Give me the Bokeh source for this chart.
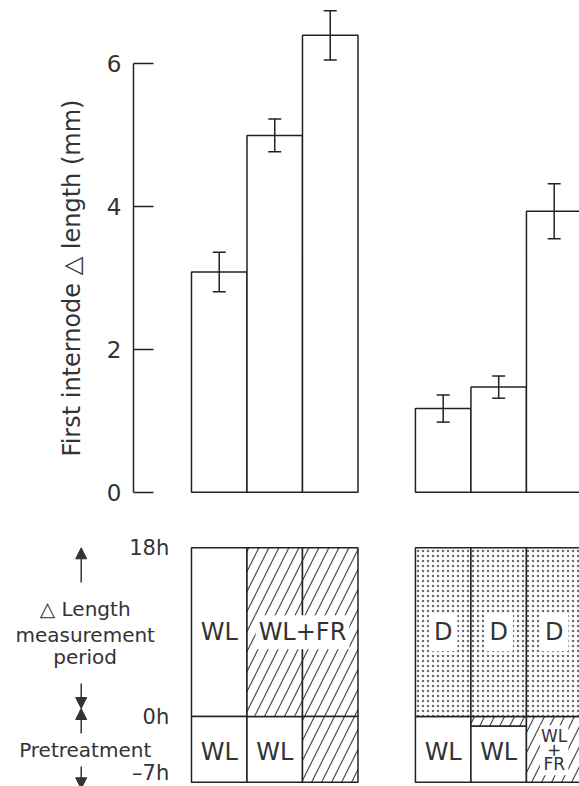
from bokeh.plotting import figure
from bokeh.models import (Range1d, Whisker, ColumnDataSource, TeeHead, Arrow,
                          NormalHead, FixedTicker)
from bokeh.layouts import column
from bokeh.embed import file_html
from bokeh.resources import INLINE
from bokeh.core.properties import value

# ---------------- data ----------------
group1_values = [3.08, 4.99, 6.39]
group1_errors = [0.275, 0.23, 0.345]
group2_values = [1.17, 1.47, 3.93]
group2_errors = [0.19, 0.155, 0.385]
y_ticks = [0, 2, 4, 6]
y_label = "First internode \u25b3 length (mm)"

# measurement period (0h -> 18h) condition for each of the six columns
measure_conditions = ["WL", "WL+FR", "WL+FR", "D", "D", "D"]
measure_start = 0
measure_end = 18
# pretreatment blocks (column index, start h, end h, condition)
pre_column = [0, 1, 2, 3, 4, 4, 5]
pre_start = [-7, -7, -7, -7, -7, -1, -7]
pre_end = [0, 0, 0, 0, -1, 0, 0]
pre_condition = ["WL", "WL", "WL+FR", "WL", "WL", "WL+FR", "WL+FR"]
hour_ticks = [18, 0, -7]
hour_labels = ["18h", "0h", "\u20137h"]

# ---------------- layout constants ----------------
FONT = value("DejaVu Sans")
INK = "#222222"
TXT = "#333333"
group_left = [1.045, 5.08]          # left edge of each group (bar-width units)
X_RANGE = (-2.396, 8.036)


def col_left(k):
    return group_left[k // 3] + k % 3


# ---------------- top: bar chart ----------------
vals = group1_values + group2_values
errs = group1_errors + group2_errors
lefts = [col_left(k) for k in range(6)]
src = ColumnDataSource(dict(
    left=lefts, right=[l + 1 for l in lefts], top=vals,
    x=[l + 0.5 for l in lefts],
    upper=[v + e for v, e in zip(vals, errs)],
    lower=[v - e for v, e in zip(vals, errs)],
))

p1 = figure(width=579, height=513, x_range=Range1d(*X_RANGE),
            y_range=Range1d(-0.298, 6.877), output_backend="svg",
            toolbar_location=None, x_axis_location=None,
            min_border_left=0, min_border_right=0, min_border_top=0,
            min_border_bottom=0, outline_line_color=None)
p1.grid.grid_line_color = None
p1.quad(left="left", right="right", top="top", bottom=0, source=src,
        fill_color="white", line_color=INK, line_width=1.5)
p1.add_layout(Whisker(source=src, base="x", upper="upper", lower="lower",
                      level="overlay", line_color=INK, line_width=1.5,
                      upper_head=TeeHead(size=13, line_color=INK, line_width=1.5),
                      lower_head=TeeHead(size=13, line_color=INK, line_width=1.5)))
ya = p1.yaxis[0]
ya.fixed_location = 0
ya.bounds = (0, 6)
ya.ticker = FixedTicker(ticks=y_ticks)
ya.major_tick_in = 20
ya.major_tick_out = 0
ya.minor_tick_line_color = None
ya.axis_line_color = INK
ya.axis_line_width = 1.5
ya.major_tick_line_color = INK
ya.major_tick_line_width = 1.5
ya.major_label_text_font = "DejaVu Sans"
ya.major_label_text_font_size = "23px"
ya.major_label_text_color = TXT
ya.major_label_standoff = 12
ya.axis_label = y_label
ya.axis_label_text_font = "DejaVu Sans"
ya.axis_label_text_font_size = "24px"
ya.axis_label_text_font_style = "normal"
ya.axis_label_text_color = TXT
ya.axis_label_standoff = 18

# ---------------- bottom: treatment schedule ----------------
p2 = figure(width=579, height=273, x_range=Range1d(*X_RANGE),
            y_range=Range1d(-7.459, 21.658), output_backend="svg",
            toolbar_location=None, x_axis_location=None, y_axis_location=None,
            min_border_left=0, min_border_right=0, min_border_top=0,
            min_border_bottom=0, outline_line_color=None)
p2.grid.grid_line_color = None

blk_col = list(range(6)) + pre_column
blk_start = [measure_start] * 6 + pre_start
blk_end = [measure_end] * 6 + pre_end
blk_cond = measure_conditions + pre_condition


def blocks(cond):
    idx = [i for i, c in enumerate(blk_cond) if c == cond]
    return ColumnDataSource(dict(
        left=[col_left(blk_col[i]) for i in idx],
        right=[col_left(blk_col[i]) + 1 for i in idx],
        bottom=[blk_start[i] for i in idx],
        top=[blk_end[i] for i in idx]))


p2.quad(left="left", right="right", top="top", bottom="bottom",
        source=blocks("WL"), fill_color="white", line_color=INK, line_width=1.5)
p2.quad(left="left", right="right", top="top", bottom="bottom",
        source=blocks("WL+FR"), fill_color="white", line_color=INK,
        line_width=1.5, hatch_pattern="/", hatch_color="#4a4a4a",
        hatch_scale=20, hatch_weight=1.2)
p2.quad(left="left", right="right", top="top", bottom="bottom",
        source=blocks("D"), fill_color="white", line_color=INK,
        line_width=1.5, hatch_pattern=".", hatch_color="#6a6a6a",
        hatch_scale=5, hatch_weight=1.1)

# labels inside the schedule
mid_measure = (measure_start + measure_end) / 2
p2.text(x=[col_left(0) + 0.5], y=[mid_measure], text=["WL"],
        text_font=FONT, text_font_size="24px", text_color=TXT,
        text_align="center", text_baseline="middle")
p2.text(x=[col_left(2)], y=[mid_measure], text=["WL+FR"],
        text_font=FONT, text_font_size="24px", text_color=TXT,
        text_align="center", text_baseline="middle",
        background_fill_color="white", padding=3)
p2.text(x=[col_left(k) + 0.5 for k in (3, 4, 5)], y=[mid_measure] * 3,
        text=["D"] * 3, text_font=FONT, text_font_size="24px", text_color=TXT,
        text_align="center", text_baseline="middle",
        background_fill_color="white", padding=5)
pre_mid = -3.8
p2.text(x=[col_left(k) + 0.5 for k in (0, 1, 3, 4)], y=[pre_mid] * 4,
        text=["WL"] * 4, text_font=FONT, text_font_size="24px",
        text_color=TXT, text_align="center", text_baseline="middle")
p2.text(x=[col_left(5) + 0.5], y=[-3.6], text=["WL\n+\nFR"],
        text_font=FONT, text_font_size="17px", text_color=TXT,
        text_line_height=0.7, text_align="center", text_baseline="middle",
        background_fill_color="white", padding=1)

# hour labels, placed at their hour values on the schedule's time scale
p2.text(x=[group_left[0] - 0.4] * 3, y=hour_ticks, text=hour_labels,
        y_offset=[0, 0, -9],
        text_font=FONT, text_font_size="21px", text_color=TXT,
        text_align="right", text_baseline="middle")

# left-hand explanation with arrows
ann_x = -0.87
p2.text(x=[ann_x] * 4, y=[11.42, 8.65, 6.35, -3.55],
        text=["\u25b3 Length", "measurement", "period", "Pretreatment"],
        text_font=FONT, text_font_size="20px", text_color=TXT,
        text_align="center", text_baseline="middle")
arr_x = -0.942
for ys, ye in [(14.3, 18.0), (3.53, 0.86), (-1.81, 0.86), (-5.33, -7.7)]:
    p2.add_layout(Arrow(x_start=arr_x, y_start=ys, x_end=arr_x, y_end=ye,
                        line_color=TXT, line_width=1.5,
                        end=NormalHead(size=11, fill_color=TXT,
                                       line_color=TXT, line_width=1)))

layout = column(p1, p2)
open("out.html", "w").write(file_html(layout, INLINE))
